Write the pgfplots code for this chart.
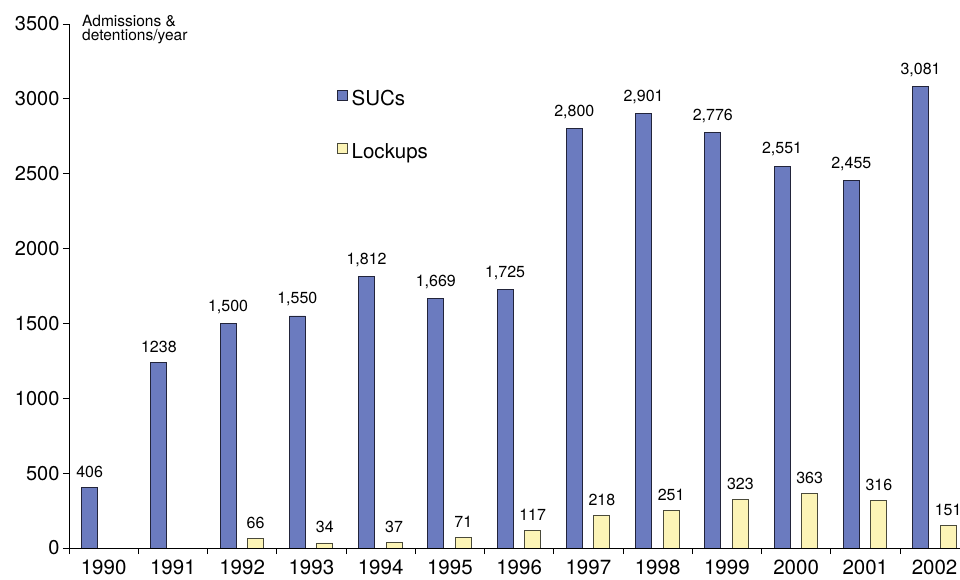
\documentclass[border=0pt]{standalone}
\usepackage{pgfplots}
\pgfplotsset{compat=1.18}
\usepackage{fontspec}
\setmainfont{TeX Gyre Heros}
\definecolor{sucblue}{HTML}{6B7BBF}
\definecolor{sucedge}{HTML}{22243A}
\definecolor{lockyellow}{HTML}{FCF4B6}
\definecolor{lockedge}{HTML}{4A4A3A}
\begin{document}
\begin{tikzpicture}[x=1pt,y=1pt]
\useasboundingbox (0,0) rectangle (960,580);
\begin{axis}[
  at={(69pt,32pt)}, anchor=south west,
  scale only axis, width=891pt, height=524pt,
  xmin=-0.5, xmax=12.367, ymin=0, ymax=3500,
  axis x line*=bottom, axis y line*=left,
  axis line style={black, line width=0.9pt},
  ybar, bar width=16pt,
  ytick={0,500,...,3500},
  xtick={0,...,12},
  xticklabels={1990,1991,1992,1993,1994,1995,1996,1997,1998,1999,2000,2001,2002},
  minor xtick={-0.5,0.5,...,11.5},
  major x tick style={draw=none},
  tick align=outside,
  major tick length=6pt, minor tick length=6pt,
  tick style={black, line width=0.9pt},
  /pgf/number format/assume math mode=true,
  /pgf/number format/1000 sep={},
  yticklabel style={font=\fontsize{20}{24}\selectfont},
  xticklabel style={font=\fontsize{20.5}{24}\selectfont, yshift=-2.5pt},
  nodes near coords style={font=\fontsize{16}{19}\selectfont, yshift=6pt, black},
  legend style={at={(axis description cs:0.3004,0.874)}, anchor=north west,
    draw=none, fill=none, inner sep=0pt, column sep=4pt, row sep=32pt,
    font=\fontsize{20.5}{24}\selectfont,
    nodes={inner sep=0pt, text height=15pt, text depth=5pt}},
  legend cell align=left,
  legend image code/.code={\draw[#1] (0pt,0pt) rectangle (10pt,10pt);},
]
\addplot[fill=sucblue, draw=sucedge, line width=0.8pt, bar shift=-14pt,
  point meta=explicit symbolic, nodes near coords]
  table[x=x, y=y, meta=l] {
x y l
0 406 406
1 1238 1238
2 1500 1,500
3 1550 1,550
4 1812 1,812
5 1669 1,669
6 1725 1,725
7 2800 2,800
8 2901 2,901
9 2776 2,776
10 2551 2,551
11 2455 2,455
12 3081 3,081
};
\addlegendentry{SUCs}
\addplot[fill=lockyellow, draw=lockedge, line width=0.8pt, bar shift=13.5pt,
  point meta=explicit symbolic, nodes near coords]
  table[x=x, y=y, meta=l] {
x y l
2 66 66
3 34 34
4 37 37
5 71 71
6 117 117
7 218 218
8 251 251
9 323 323
10 363 363
11 316 316
12 151 151
};
\addlegendentry{Lockups}
\end{axis}
\node[anchor=north west, align=left, inner sep=0pt,
  font=\fontsize{15.5}{14}\selectfont] at (82,565) {Admissions \&\\detentions/year};
\end{tikzpicture}
\end{document}
